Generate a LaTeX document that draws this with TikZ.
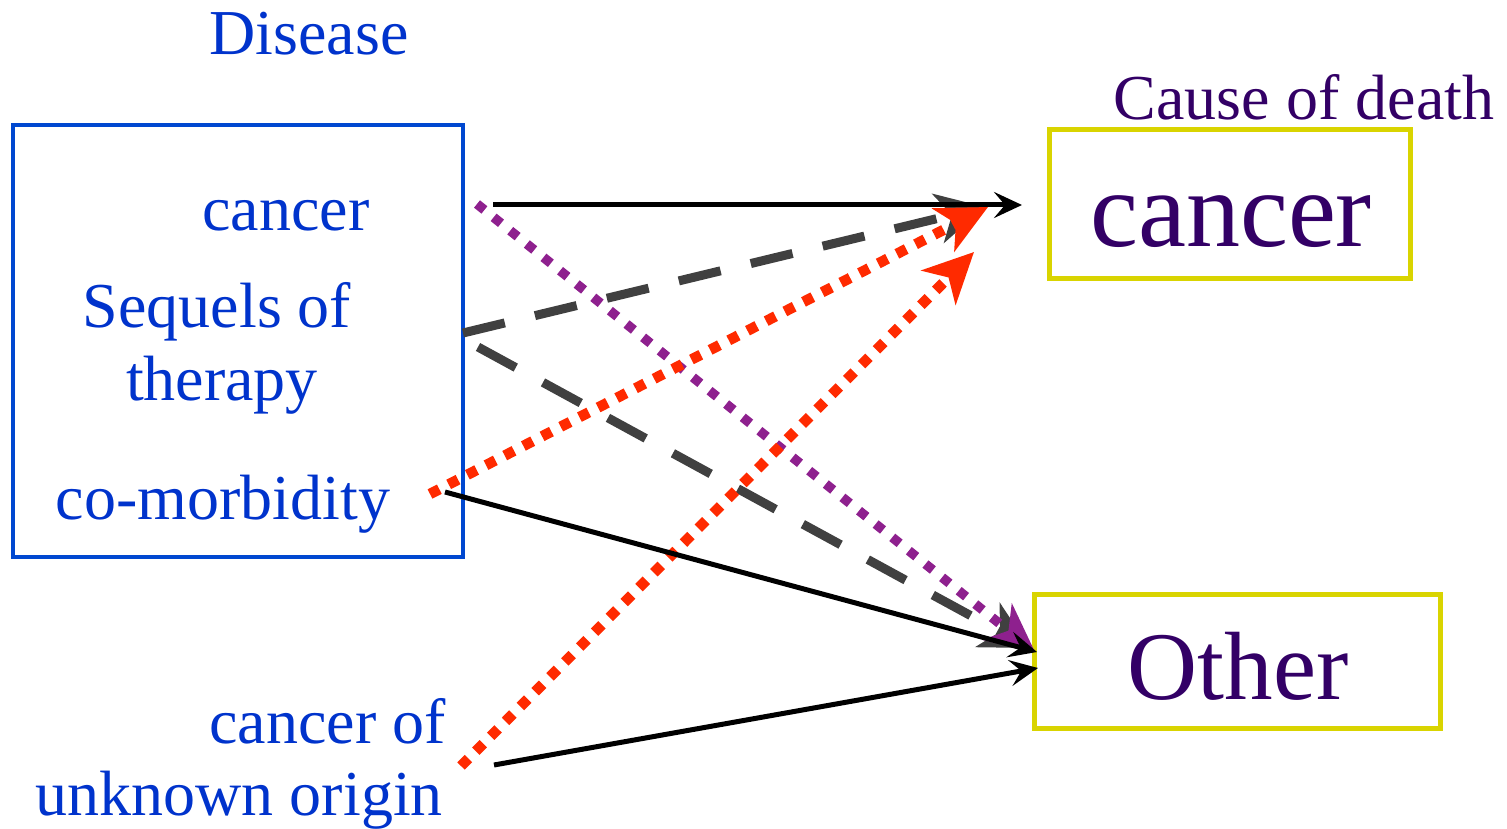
\documentclass[tikz,border=0pt]{standalone}
\usepackage{fontspec}
\setmainfont{Liberation Serif}
\usetikzlibrary{arrows.meta}
\definecolor{txtblue}{HTML}{0033CC}
\definecolor{boxblue}{HTML}{0048D0}
\definecolor{txtpurple}{HTML}{330066}
\definecolor{boxyellow}{HTML}{D9D400}
\definecolor{dkgray}{HTML}{404040}
\definecolor{dotpurple}{HTML}{8E208E}
\definecolor{dotred}{HTML}{FF2A00}
\tikzset{
  lbl/.style={anchor=base, inner sep=0pt, font=\fontsize{64}{72}\selectfont, text=txtblue},
  lblp/.style={lbl, text=txtpurple},
  bigcancer/.style={anchor=base, inner sep=0pt, font=\fontsize{108}{120}\selectfont, text=txtpurple},
  bigother/.style={anchor=base, inner sep=0pt, font=\fontsize{97}{110}\selectfont, text=txtpurple},
  bluebox/.style={draw=boxblue, line width=4pt, inner sep=0pt},
  yelbox/.style={draw=boxyellow, line width=5pt, inner sep=0pt},
  solidarrow/.style={draw=black, line width=5pt, -{Stealth[length=28pt,width=26pt,inset=11pt]}},
  dasharrow/.style={draw=dkgray, line width=9pt, dash pattern=on 43pt off 31pt,
    -{Stealth[length=48pt,width=50pt,inset=14pt]}},
  purpledots/.style={draw=dotpurple, line width=9.5pt, dash pattern=on 9.5pt off 11.8pt,
    -{Stealth[length=48pt,width=46pt,inset=14pt]}},
  reddots/.style={draw=dotred, line width=10.5pt, dash pattern=on 10.5pt off 10.5pt,
    -{Stealth[length=50pt,width=48pt,inset=14pt]}},
}
\begin{document}
\begin{tikzpicture}[x=1pt,y=-1pt]
\useasboundingbox (0,0) rectangle (1507,829);
% boxes
\node[bluebox, minimum width=450pt, minimum height=432pt] (dbox) at (238,341) {};
\node[yelbox, minimum width=361pt, minimum height=148pt] (cbox) at (1229.5,204) {};
\node[yelbox, minimum width=406pt, minimum height=134pt] (obox) at (1237,661) {};
% labels
\node[lbl] (disease) at (309,55) {Disease};
\node[lbl] (dcancer) at (286,231) {cancer};
\node[lbl] (seq1) at (217,327) {Sequels of};
\node[lbl] (seq2) at (222,400) {therapy};
\node[lbl] (comorb) at (223,519) {co-morbidity};
\node[lbl, anchor=base east] (cuo1) at (446,743) {cancer of};
\node[lbl, anchor=base east] (cuo2) at (443,815) {unknown origin};
\node[lblp] (cod) at (1304,120) {Cause of death};
\node[bigcancer] (ccancer) at (1231,247) {cancer};
\node[bigother] (cother) at (1238,699) {Other};
% connector end points
\coordinate (s1) at (493,205);   \coordinate (t1) at (1022,205);
\coordinate (s2) at (463,333);   \coordinate (t2) at (985,207);
\coordinate (s3) at (478,347);   \coordinate (t3) at (1030,648);
\coordinate (s4) at (477,204);   \coordinate (t4) at (1035,652);
\coordinate (s5) at (430,494);   \coordinate (t5) at (988,207);
\coordinate (s6) at (461,766);   \coordinate (t6) at (974,252);
\coordinate (s7) at (445,492);   \coordinate (t7) at (1037,652);
\coordinate (s8) at (494,765);   \coordinate (t8) at (1038,668);
% connectors
\draw[dasharrow] (s2) -- (t2);
\draw[dasharrow] (s3) -- (t3);
\draw[purpledots] (s4) -- (t4);
\draw[reddots] (s5) -- (t5);
\draw[reddots] (s6) -- (t6);
\draw[solidarrow] (s1) -- (t1);
\draw[solidarrow] (s7) -- (t7);
\draw[solidarrow] (s8) -- (t8);
\end{tikzpicture}
\end{document}
